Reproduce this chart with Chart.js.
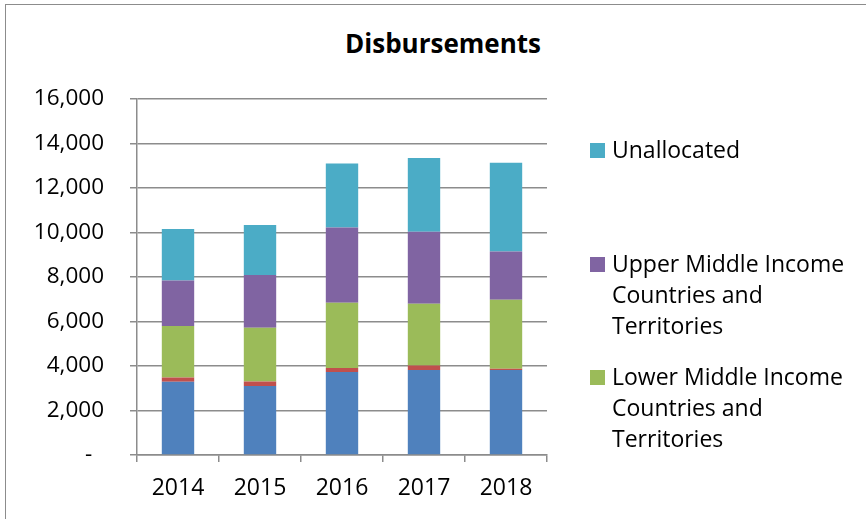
<!DOCTYPE html>
<html>
<head>
<meta charset="utf-8">
<script src="https://cdn.jsdelivr.net/npm/chart.js@4.4.1/dist/chart.umd.min.js"></script>
<style>
  html, body { margin: 0; padding: 0; background: #fff; }
  #wrap { position: relative; width: 866px; height: 519px; overflow: hidden; font-family: "Open Sans", Lato, sans-serif; }
  #frame { position: absolute; left: 5px; top: 4px; width: 900px; height: 600px; border: 1.5px solid #8c8c8c; box-sizing: border-box; }
  #title { position: absolute; left: 0; width: 886px; top: 25px; text-align: center; font-size: 26px; font-weight: bold; color: #000; }
  #chart { position: absolute; left: 0; top: 0; }
  #legend { position: absolute; left: 590px; top: 0; width: 275px; }
  .item { position: absolute; left: 0; display: flex; align-items: flex-start; }
  .swatch { width: 15px; height: 15px; margin-top: 9px; margin-right: 7px; flex: none; }
  .label { font-size: 23px; line-height: 31px; color: #000; white-space: nowrap; }
</style>
</head>
<body>
<div id="wrap">
  <div id="frame"></div>
  <div id="title">Disbursements</div>
  <canvas id="chart" width="866" height="519"></canvas>
  <div id="legend"></div>
</div>
<script>
// Disbursements by income group, 2014-2018
const years = ['2014', '2015', '2016', '2017', '2018'];

const seriesNames = [
  'Least Developed Countries',
  'Other Low Income Countries',
  'Lower Middle Income Countries and Territories',
  'Upper Middle Income Countries and Territories',
  'Unallocated'
];

const leastDeveloped = [3290, 3100, 3730, 3820, 3820];
const otherLowIncome = [195, 205, 180, 205, 60];
const lowerMiddle = [2310, 2415, 2935, 2775, 3100];
const upperMiddle = [2050, 2370, 3385, 3235, 2170];
const unallocated = [2310, 2245, 2875, 3310, 3985];

const seriesColors = ['#4F81BD', '#C0504D', '#9BBB59', '#8064A2', '#4BACC6'];

const yTicks = [0, 2000, 4000, 6000, 8000, 10000, 12000, 14000, 16000];

// legend entries that fit in the visible area (Excel cut the rest off)
const legendEntries = [
  { idx: 4, top: 134, lines: ['Unallocated'] },
  { idx: 3, top: 248, lines: ['Upper Middle Income', 'Countries and', 'Territories'] },
  { idx: 2, top: 361, lines: ['Lower Middle Income', 'Countries and', 'Territories'] }
];

const gridColor = '#8c8c8c';
const fontFamily = '"Open Sans", Lato, sans-serif';

document.addEventListener('DOMContentLoaded', () => {
  const values = [leastDeveloped, otherLowIncome, lowerMiddle, upperMiddle, unallocated];

  const datasets = values.map((data, i) => ({
    label: seriesNames[i],
    data,
    backgroundColor: seriesColors[i],
    borderWidth: 0,
    barPercentage: 0.395,
    categoryPercentage: 1
  }));

  new Chart(document.getElementById('chart'), {
    type: 'bar',
    data: { labels: years, datasets },
    options: {
      responsive: false,
      animation: false,
      layout: { padding: { left: 0, right: 319, top: 99, bottom: 0 } },
      plugins: {
        legend: { display: false },
        title: { display: false },
        tooltip: { enabled: false }
      },
      scales: {
        x: {
          stacked: true,
          grid: { drawOnChartArea: false, color: gridColor, lineWidth: 1.5, tickLength: 7 },
          border: { color: gridColor, width: 1.5 },
          ticks: { color: '#000', font: { family: fontFamily, size: 23 }, padding: 13 },
          afterFit: scale => { scale.height = 64; }
        },
        y: {
          stacked: true,
          min: 0,
          max: 16000,
          afterBuildTicks: scale => { scale.ticks = yTicks.map(v => ({ value: v })); },
          grid: { color: gridColor, lineWidth: 1.5, tickLength: 7 },
          border: { color: gridColor, width: 1.5 },
          ticks: {
            color: '#000',
            font: { family: fontFamily, size: 22.5 },
            padding: 26,
            callback: v => v === 0 ? '-  ' : v.toLocaleString('en-US')
          },
          afterFit: scale => { scale.width = 137; }
        }
      }
    }
  });

  const legend = document.getElementById('legend');
  legend.innerHTML = legendEntries.map(e => `
    <div class="item" style="top:${e.top}px">
      <div class="swatch" style="background:${seriesColors[e.idx]}"></div>
      <div class="label">${e.lines.join('<br>')}</div>
    </div>
  `).join('');
});
</script>
</body>
</html>
